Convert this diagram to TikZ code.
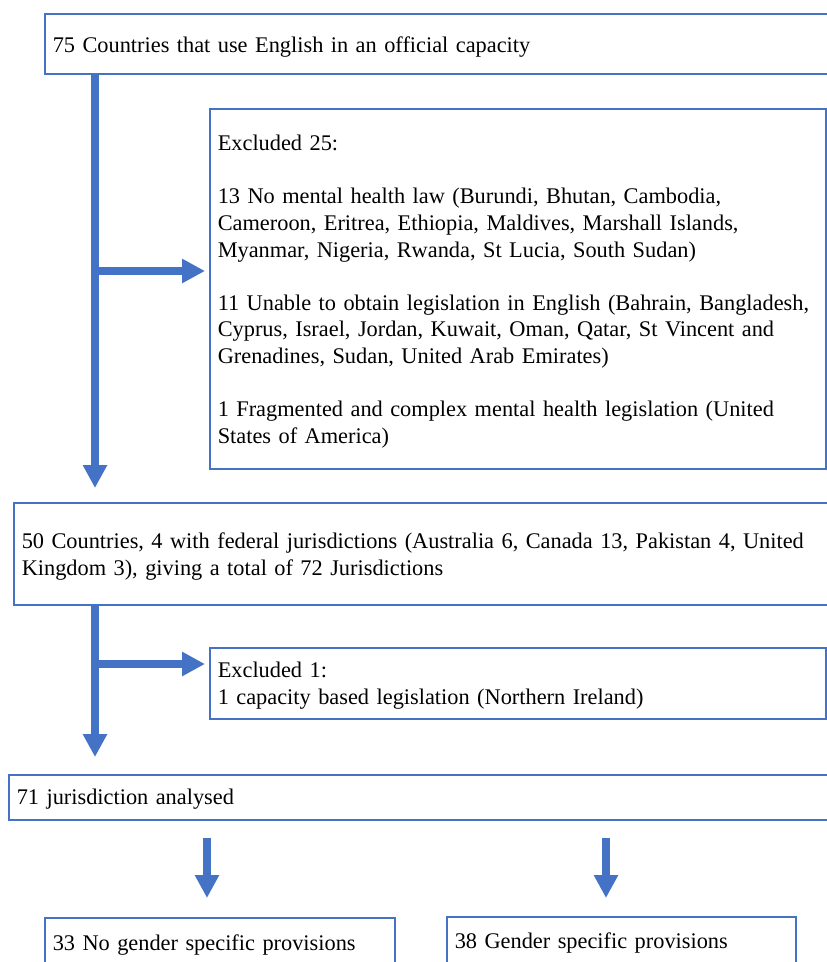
\documentclass[tikz,border=0pt]{standalone}
\usepackage{fontspec}
\setmainfont{Liberation Serif}
\usetikzlibrary{arrows.meta, calc, positioning}
\definecolor{flowblue}{HTML}{4472C4}
\newcommand{\blankrow}{\\[26.6pt]}

\begin{document}
\begin{tikzpicture}[x=1pt,y=-1pt,font=\fontsize{22.35pt}{26.6pt}\selectfont,
    flowbox/.style={draw=flowblue,line width=1.5pt,anchor=north west,inner xsep=8pt,inner ysep=0pt,align=left},
    boxw/.style={minimum width=#1,text width=#1-16pt},
    flow/.style={draw=flowblue,line width=7.5pt,-{Triangle[length=23pt,width=23pt]}}]
    \clip (0,0) rectangle (827,962);
    \node[flowbox,boxw=800pt,text height=39pt,text depth=21pt] (countries) at (44,13)
      {75 Countries that use English in an official capacity};
    \node[flowbox,boxw=616pt,text height=42pt,text depth=318pt] (excluded) at (209,108)
      {Excluded 25:\blankrow
       13 No mental health law (Burundi, Bhutan, Cambodia,\\
       Cameroon, Eritrea, Ethiopia, Maldives, Marshall Islands,\\
       Myanmar, Nigeria, Rwanda, St Lucia, South Sudan)\blankrow
       11 Unable to obtain legislation in English (Bahrain, Bangladesh,\\
       Cyprus, Israel, Jordan, Kuwait, Oman, Qatar, St Vincent and\\
       Grenadines, Sudan, United Arab Emirates)\blankrow
       1 Fragmented and complex mental health legislation (United\\
       States of America)};
    \node[flowbox,boxw=830pt,text height=46pt,text depth=56pt] (federal) at (13,502)
      {50 Countries, 4 with federal jurisdictions (Australia 6, Canada 13, Pakistan 4, United\\
       Kingdom 3), giving a total of 72 Jurisdictions};
    \node[flowbox,boxw=616pt,text height=30pt,text depth=41pt] (capacity) at (209,647)
      {Excluded 1:\\
       1 capacity based legislation (Northern Ireland)};
    \node[flowbox,boxw=830pt,text height=30pt,text depth=15pt] (analysed) at (8,774)
      {71 jurisdiction analysed};
    \node[flowbox,boxw=350pt,text height=33pt,text depth=40pt] (nogender) at (44,917)
      {33 No gender specific provisions};
    \node[flowbox,boxw=349pt,text height=32pt,text depth=40pt] (gender) at (446,916)
      {38 Gender specific provisions};
    \coordinate (trunk) at (95,0);
    \coordinate (forkA) at (95,271);
    \coordinate (forkB) at (95,664);
    \coordinate (splitL) at (207,0);
    \coordinate (splitR) at (606,0);
    \draw[flow] (countries.south -| trunk) -- ([yshift=14pt]federal.north -| trunk);
    \draw[flow] (forkA) -- ([xshift=-4pt]excluded.west |- forkA);
    \draw[flow] (federal.south -| trunk) -- ([yshift=17pt]analysed.north -| trunk);
    \draw[flow] (forkB) -- ([xshift=-4pt]capacity.west |- forkB);
    \draw[flow] ([yshift=-17pt]analysed.south -| splitL) -- ([yshift=19pt]nogender.north -| splitL);
    \draw[flow] ([yshift=-17pt]analysed.south -| splitR) -- ([yshift=18pt]gender.north -| splitR);
  \end{tikzpicture}
\end{document}
